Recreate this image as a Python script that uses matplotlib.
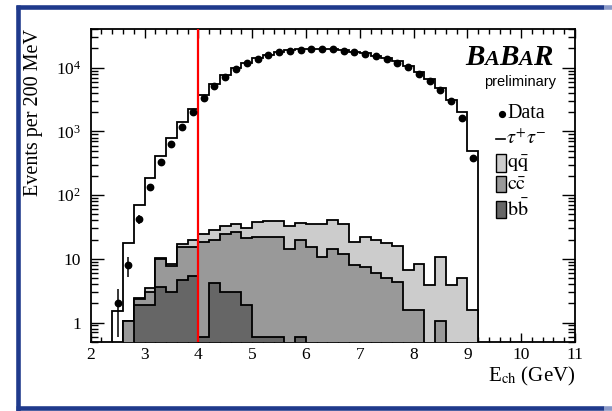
import numpy as np
import matplotlib
matplotlib.use("Agg")
import matplotlib.pyplot as plt
from matplotlib.lines import Line2D
from matplotlib.patches import Rectangle
from matplotlib.ticker import MultipleLocator, LogLocator, FixedLocator, FixedFormatter, NullFormatter

plt.rcParams["font.family"] = ["Liberation Serif", "DejaVu Serif"]
plt.rcParams["mathtext.fontset"] = "stix"

# ---------------------------------------------------------------------------
# data: 0.2 GeV bins from 2.0 to 9.2 GeV
# ---------------------------------------------------------------------------
edges = np.round(np.arange(2.0, 9.21, 0.2), 2)
centers = 0.5 * (edges[:-1] + edges[1:])

data = [0, 0, 2, 8, 42, 133, 332, 630, 1180, 1990,
        3330, 5100, 7080, 9440, 11700, 13900, 15600, 17300, 18500, 19200,
        19800, 19900, 19400, 18500, 17600, 16600, 15100, 13700, 12000, 10300,
        8080, 6280, 4540, 3000, 1650, 380]

tautau = [0, 0, 1.5, 16.8, 67.7, 183, 403, 774, 1390, 2230,
          3710, 5600, 7570, 9860, 11970, 14060, 15760, 17360, 18570, 19260,
          19760, 19870, 19560, 18770, 17880, 16880, 15480, 14180, 12580, 10790,
          8490, 6580, 4870, 3100, 2015, 493]

qq = [0, 0, 0, 0, 0.05, 0.4, 0.4, 0.5, 1.6, 4.2,
      6.0, 8.6, 8.8, 8.4, 9.1, 16.5, 17.9, 17.9, 18.8, 16.3,
      19.8, 24.0, 26.4, 23.0, 10.6, 14.4, 13.8, 13.0, 11.7, 5.05,
      6.6, 3.9, 9.7, 3.9, 4.95, 1.6]

cc = [0, 0, 0, 1.06, 0.45, 1.15, 6.2, 4.75, 10.85, 10.1,
      17.6, 15.6, 21.2, 23.6, 19.0, 21.1, 21.1, 21.1, 14.2, 19.1,
      15.5, 10.8, 14.2, 11.8, 8.0, 7.5, 5.9, 4.95, 4.3, 1.6,
      1.6, 0, 1.06, 0, 0, 0]

bb = [0, 0, 0, 0, 1.9, 1.9, 3.6, 3.05, 4.65, 5.4,
      0.6, 4.1, 3.05, 3.05, 1.9, 0.6, 0.6, 0.6, 0, 0.6,
      0, 0, 0, 0, 0, 0, 0, 0, 0, 0,
      0, 0, 0, 0, 0, 0]

cut_value = 4.0

# stacked tops (bb at bottom, then cc, qq, tau)
bb_top = np.array(bb)
cc_top = bb_top + np.array(cc)
qq_top = cc_top + np.array(qq)
tot_top = qq_top + np.array(tautau)

floor = 1e-3   # stand-in for empty bins on the log axis
def pos(v):
    return np.where(v > 0, v, floor)

# ---------------------------------------------------------------------------
# figure
# ---------------------------------------------------------------------------
W, H = 612, 411
fig = plt.figure(figsize=(W / 100, H / 100), dpi=100)
ax = fig.add_axes([90.7 / W, 1 - 341.7 / H, (575 - 90.7) / W, (341.7 - 29.3) / H])
ax.set_yscale("log")

lw = 1.3
ax.stairs(pos(tot_top), edges, baseline=floor, fill=True, facecolor="white",
          edgecolor="black", lw=lw, zorder=2)
ax.stairs(pos(qq_top), edges, baseline=floor, fill=True, facecolor="#cccccc",
          edgecolor="black", lw=lw, zorder=3)
ax.stairs(pos(cc_top), edges, baseline=floor, fill=True, facecolor="#999999",
          edgecolor="black", lw=lw, zorder=4)
ax.stairs(pos(bb_top), edges, baseline=floor, fill=True, facecolor="#666666",
          edgecolor="black", lw=lw, zorder=5)

d = np.array(data, dtype=float)
m = d > 0
ax.errorbar(centers[m], d[m], yerr=np.sqrt(d[m]), fmt="o", color="black",
            ms=4.6, elinewidth=1.1, capsize=0, zorder=7)

ax.axvline(cut_value, color="red", lw=1.6, zorder=6)

ax.set_xlim(2, 11)
ax.set_ylim(0.5, 4.0e4)

# ticks (ROOT style, inward on all sides)
ax.xaxis.set_major_locator(MultipleLocator(1))
ax.xaxis.set_minor_locator(MultipleLocator(0.2))
ax.yaxis.set_major_locator(FixedLocator([1, 10, 100, 1000, 10000]))
ax.yaxis.set_major_formatter(FixedFormatter(["1", "10", r"$\mathdefault{10^{2}}$",
                                             r"$\mathdefault{10^{3}}$",
                                             r"$\mathdefault{10^{4}}$"]))
ax.yaxis.set_minor_locator(LogLocator(base=10, subs=np.arange(2, 10), numticks=20))
ax.yaxis.set_minor_formatter(NullFormatter())
ax.tick_params(axis="both", which="both", direction="in", top=True, right=True,
               labelsize=12.5, width=1.0, colors="black")
ax.tick_params(axis="x", which="major", length=6.5, pad=4)
ax.tick_params(axis="x", which="minor", length=3.6)
ax.tick_params(axis="y", which="major", length=9.4, pad=7)
ax.tick_params(axis="y", which="minor", length=4.7)
for s in ax.spines.values():
    s.set_linewidth(1.3)

ax.set_ylabel("Events per 200 MeV", fontsize=14.5, loc="top")
ax.yaxis.set_label_coords((43 - 90.7) / 484.3, 1.0)
ax.set_xlabel(r"E$_{\mathrm{ch}}$ (GeV)", fontsize=15, loc="right")
ax.xaxis.set_label_coords(1.0, (341.7 - 365) / 312.4)

# ---------------------------------------------------------------------------
# BABAR logo and legend (placed in figure pixels)
# ---------------------------------------------------------------------------
def fx(X):
    return X / W

def fy(Y):
    return 1 - Y / H

tf = fig.transFigure

# logo letters, big B's and R, smaller A's; chained after drawing
letters = []
for ch, fs in [("B", 21), ("A", 16), ("B", 21), ("A", 16), ("R", 21)]:
    letters.append(fig.text(0, 0, ch, fontsize=fs, fontweight="bold",
                            fontstyle="italic", va="baseline", ha="left",
                            transform=tf))

fig.text(fx(556), fy(82), "preliminary", fontsize=10.5, family="Liberation Sans",
         ha="right", va="center", transform=tf)

fs_leg = 14.5
fig.add_artist(Line2D([fx(501.7)], [fy(114)], marker="o", ms=4.2, color="black",
                      transform=tf))
fig.text(fx(507), fy(114), "Data", fontsize=fs_leg, ha="left", va="center", transform=tf)
fig.add_artist(Line2D([fx(496), fx(505)], [fy(139.5), fy(139.5)], lw=1.2,
                      color="black", transform=tf))
fig.text(fx(506), fy(139), r"$\tau^{+}\tau^{-}$", fontsize=fs_leg, ha="left",
         va="center", transform=tf)

boxes = [("#cccccc", r"$\mathrm{q}\bar{\mathrm{q}}$", 154, 171.7),
         ("#999999", r"$\mathrm{c}\bar{\mathrm{c}}$", 176, 192.5),
         ("#666666", r"$\mathrm{b}\bar{\mathrm{b}}$", 201, 217.7)]
for col, lab, y0, y1 in boxes:
    fig.add_artist(Rectangle((fx(496), fy(y1)), (506 - 496) / W, (y1 - y0) / H,
                             facecolor=col, edgecolor="black", lw=1.0, transform=tf))
    fig.text(fx(507), fy(0.5 * (y0 + y1) + 1), lab, fontsize=fs_leg, ha="left",
             va="center", transform=tf)

# blue frame around the picture
frame_col = "#1f3a8c"
fig.add_artist(Line2D([fx(18.3), fx(18.3)], [fy(5), fy(410.5)], lw=3.3,
                      color=frame_col, transform=tf, solid_capstyle="butt"))
fig.add_artist(Line2D([fx(16), fx(604)], [fy(7.2), fy(7.2)], lw=3.3,
                      color=frame_col, transform=tf, solid_capstyle="butt"))
fig.add_artist(Line2D([fx(16), fx(604)], [fy(408.2), fy(408.2)], lw=3.3,
                      color=frame_col, transform=tf, solid_capstyle="butt"))
fig.add_artist(Line2D([fx(604), fx(612)], [fy(7.2), fy(7.2)], lw=3.3,
                      color="#8a99c8", transform=tf, solid_capstyle="butt"))
fig.add_artist(Line2D([fx(604), fx(612)], [fy(408.2), fy(408.2)], lw=3.3,
                      color="#8a99c8", transform=tf, solid_capstyle="butt"))

# chain the logo letters one after another
fig.canvas.draw()
r = fig.canvas.get_renderer()
x_px = 465
for t in letters:
    t.set_position((fx(x_px), fy(65)))
    x_px += t.get_window_extent(renderer=r).width

fig.savefig("out.png", dpi=100)
